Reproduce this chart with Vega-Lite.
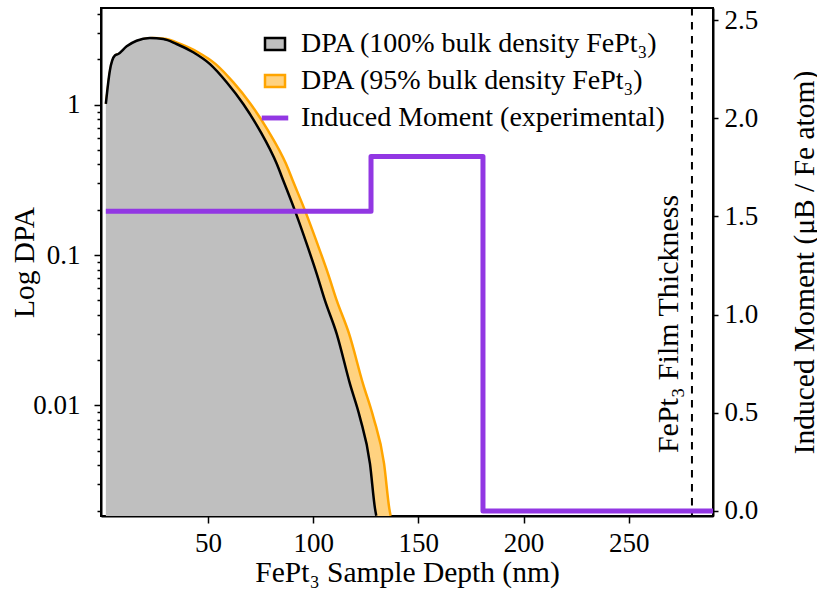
{
  "$schema": "https://vega.github.io/schema/vega-lite/v6.json",
  "width": 612,
  "height": 508,
  "autosize": "none",
  "padding": {"left": 101, "top": 8, "right": 104, "bottom": 83},
  "background": "white",
  "config": {
    "view": {"stroke": "black", "strokeWidth": 2},
    "font": "Liberation Serif",
    "axis": {
      "labelFont": "Liberation Serif",
      "titleFont": "Liberation Serif",
      "labelFontSize": 27,
      "titleFontSize": 29.5,
      "titleFontWeight": "normal",
      "labelColor": "black",
      "titleColor": "black",
      "domainColor": "black",
      "domainWidth": 2,
      "tickColor": "black",
      "tickWidth": 1.5,
      "grid": false
    },
    "legend": {
      "orient": "none",
      "legendX": 160,
      "legendY": 22,
      "title": null,
      "padding": 0,
      "labelFont": "Liberation Serif",
      "labelFontSize": 28,
      "labelColor": "black",
      "labelLimit": 0,
      "symbolSize": 400,
      "symbolStrokeWidth": 2.5,
      "symbolOpacity": 1,
      "labelOffset": 12,
      "rowPadding": 9
    }
  },
  "datasets": {
    "dpa100": [
      {"depth": 1.5, "dpa": 1.01},
      {"depth": 3.4, "dpa": 1.68},
      {"depth": 5.8, "dpa": 2.12},
      {"depth": 7.4, "dpa": 2.17},
      {"depth": 11.4, "dpa": 2.44},
      {"depth": 16.1, "dpa": 2.66},
      {"depth": 22.4, "dpa": 2.77},
      {"depth": 28.8, "dpa": 2.73},
      {"depth": 35.1, "dpa": 2.53},
      {"depth": 43.0, "dpa": 2.23},
      {"depth": 51.0, "dpa": 1.86},
      {"depth": 58.9, "dpa": 1.41},
      {"depth": 66.8, "dpa": 1.01},
      {"depth": 74.7, "dpa": 0.672},
      {"depth": 82.7, "dpa": 0.404},
      {"depth": 85.8, "dpa": 0.313},
      {"depth": 91.3, "dpa": 0.198},
      {"depth": 96.9, "dpa": 0.119},
      {"depth": 101.7, "dpa": 0.075},
      {"depth": 105.6, "dpa": 0.0499},
      {"depth": 111.2, "dpa": 0.0299},
      {"depth": 117.5, "dpa": 0.0139},
      {"depth": 122.2, "dpa": 0.00836},
      {"depth": 127.0, "dpa": 0.0041},
      {"depth": 129.4, "dpa": 0.00206},
      {"depth": 130.0, "dpa": 0.00185}
    ],
    "dpa95": [
      {"depth": 1.6, "dpa": 1.01},
      {"depth": 3.6, "dpa": 1.68},
      {"depth": 6.1, "dpa": 2.12},
      {"depth": 7.8, "dpa": 2.17},
      {"depth": 12.0, "dpa": 2.44},
      {"depth": 16.9, "dpa": 2.66},
      {"depth": 23.6, "dpa": 2.77},
      {"depth": 30.3, "dpa": 2.73},
      {"depth": 36.9, "dpa": 2.53},
      {"depth": 45.3, "dpa": 2.23},
      {"depth": 53.7, "dpa": 1.86},
      {"depth": 62.0, "dpa": 1.41},
      {"depth": 70.3, "dpa": 1.01},
      {"depth": 78.6, "dpa": 0.672},
      {"depth": 87.1, "dpa": 0.404},
      {"depth": 90.3, "dpa": 0.313},
      {"depth": 96.1, "dpa": 0.198},
      {"depth": 102.0, "dpa": 0.119},
      {"depth": 107.1, "dpa": 0.075},
      {"depth": 111.2, "dpa": 0.0499},
      {"depth": 117.1, "dpa": 0.0299},
      {"depth": 123.7, "dpa": 0.0139},
      {"depth": 128.6, "dpa": 0.00836},
      {"depth": 133.7, "dpa": 0.0041},
      {"depth": 136.2, "dpa": 0.00206},
      {"depth": 136.8, "dpa": 0.00185}
    ],
    "moment": [
      {"depth": 1.5, "m": 1.527},
      {"depth": 127.5, "m": 1.805},
      {"depth": 180.7, "m": 0},
      {"depth": 290, "m": 0}
    ],
    "film": [
      {"t": 280, "label": "FePt₃ Film Thickness"}
    ],
    "legend": [
      {"series": "DPA (100% bulk density FePt₃)"},
      {"series": "DPA (95% bulk density FePt₃)"},
      {"series": "Induced Moment (experimental)"}
    ]
  },
  "layer": [
    {
      "layer": [
        {
          "data": {"name": "dpa95"},
          "mark": {"type": "area", "interpolate": "monotone", "opacity": 1, "color": "#ffd280", "clip": true},
          "encoding": {
            "x": {
              "field": "depth", "type": "quantitative",
              "scale": {"domain": [-0.8, 290], "nice": false, "zero": false},
              "axis": {
                "values": [50, 100, 150, 200, 250],
                "format": "d",
                "tickSize": 7,
                "labelPadding": 7,
                "title": "FePt₃ Sample Depth (nm)",
                "titleBaseline": "alphabetic",
                "titleY": 65
              }
            },
            "y": {
              "field": "dpa", "type": "quantitative",
              "scale": {"type": "log", "domain": [0.00184, 4.39], "nice": false},
              "axis": {
                "orient": "left",
                "values": [0.002, 0.003, 0.004, 0.005, 0.006, 0.007, 0.008, 0.009, 0.01, 0.02, 0.03, 0.04, 0.05, 0.06, 0.07, 0.08, 0.09, 0.1, 0.2, 0.3, 0.4, 0.5, 0.6, 0.7, 0.8, 0.9, 1, 2, 3, 4],
                "labelExpr": "datum.value == 1 ? '1' : (datum.value == 0.1 ? '0.1' : (datum.value == 0.01 ? '0.01' : ''))",
                "tickSize": {"condition": {"test": "datum.value == 1 || datum.value == 0.1 || datum.value == 0.01", "value": 7}, "value": 4},
                "labelPadding": 14,
                "title": "Log DPA",
                "titleAngle": 270,
                "titleAlign": "center",
                "titleBaseline": "alphabetic",
                "titleX": -68,
                "titleY": 254
              }
            },
            "y2": {"datum": 0.00184}
          }
        },
        {
          "data": {"name": "dpa95"},
          "mark": {"type": "line", "interpolate": "monotone", "color": "#ffa500", "strokeWidth": 2.5, "clip": true},
          "encoding": {
            "x": {"field": "depth", "type": "quantitative"},
            "y": {"field": "dpa", "type": "quantitative"}
          }
        },
        {
          "data": {"name": "dpa100"},
          "mark": {"type": "area", "interpolate": "monotone", "opacity": 1, "color": "#bfbfbf", "clip": true},
          "encoding": {
            "x": {"field": "depth", "type": "quantitative"},
            "y": {"field": "dpa", "type": "quantitative"},
            "y2": {"datum": 0.00184}
          }
        },
        {
          "data": {"name": "dpa100"},
          "mark": {"type": "line", "interpolate": "monotone", "color": "black", "strokeWidth": 2.5, "clip": true},
          "encoding": {
            "x": {"field": "depth", "type": "quantitative"},
            "y": {"field": "dpa", "type": "quantitative"}
          }
        },
        {
          "data": {"name": "film"},
          "mark": {"type": "rule", "color": "black", "strokeWidth": 2, "strokeDash": [7.5, 6.5]},
          "encoding": {
            "x": {"field": "t", "type": "quantitative"}
          }
        },
        {
          "data": {"name": "film"},
          "mark": {"type": "text", "angle": 270, "align": "center", "baseline": "alphabetic", "font": "Liberation Serif", "fontSize": 30, "color": "black"},
          "encoding": {
            "text": {"field": "label"},
            "x": {"datum": 273.4, "type": "quantitative"},
            "y": {"datum": 0.0348, "type": "quantitative"}
          }
        },
        {
          "data": {"name": "legend"},
          "mark": {"type": "point", "filled": true, "opacity": 0, "size": 400},
          "encoding": {
            "shape": {
              "field": "series", "type": "nominal",
              "scale": {
                "domain": ["DPA (100% bulk density FePt₃)", "DPA (95% bulk density FePt₃)", "Induced Moment (experimental)"],
                "range": ["M-1,-0.6H1V0.6H-1Z", "M-1,-0.6H1V0.6H-1Z", "M-1.2,-0.12H1.2V0.12H-1.2Z"]
              }
            },
            "fill": {
              "field": "series", "type": "nominal",
              "scale": {
                "domain": ["DPA (100% bulk density FePt₃)", "DPA (95% bulk density FePt₃)", "Induced Moment (experimental)"],
                "range": ["#bfbfbf", "#ffd280", "#9237e3"]
              }
            },
            "stroke": {
              "field": "series", "type": "nominal",
              "scale": {
                "domain": ["DPA (100% bulk density FePt₃)", "DPA (95% bulk density FePt₃)", "Induced Moment (experimental)"],
                "range": ["black", "#ffa500", "#9237e3"]
              }
            }
          }
        }
      ]
    },
    {
      "data": {"name": "moment"},
      "mark": {"type": "line", "interpolate": "step-after", "strokeWidth": 5, "strokeJoin": "round", "color": "#9237e3", "clip": true, "opacity": 1},
      "encoding": {
        "x": {"field": "depth", "type": "quantitative"},
        "y": {
          "field": "m", "type": "quantitative",
          "scale": {"domain": [-0.026, 2.562], "nice": false, "zero": false},
          "axis": {
            "orient": "right",
            "values": [0, 0.5, 1, 1.5, 2, 2.5],
            "format": ".1f",
            "tickSize": 5,
            "labelPadding": 6,
            "title": "Induced Moment (μB / Fe atom)",
            "titleAngle": 270,
            "titleAlign": "center",
            "titleBaseline": "alphabetic",
            "titleX": 100,
            "titleY": 254
          }
        }
      }
    }
  ],
  "resolve": {"scale": {"y": "independent"}}
}
